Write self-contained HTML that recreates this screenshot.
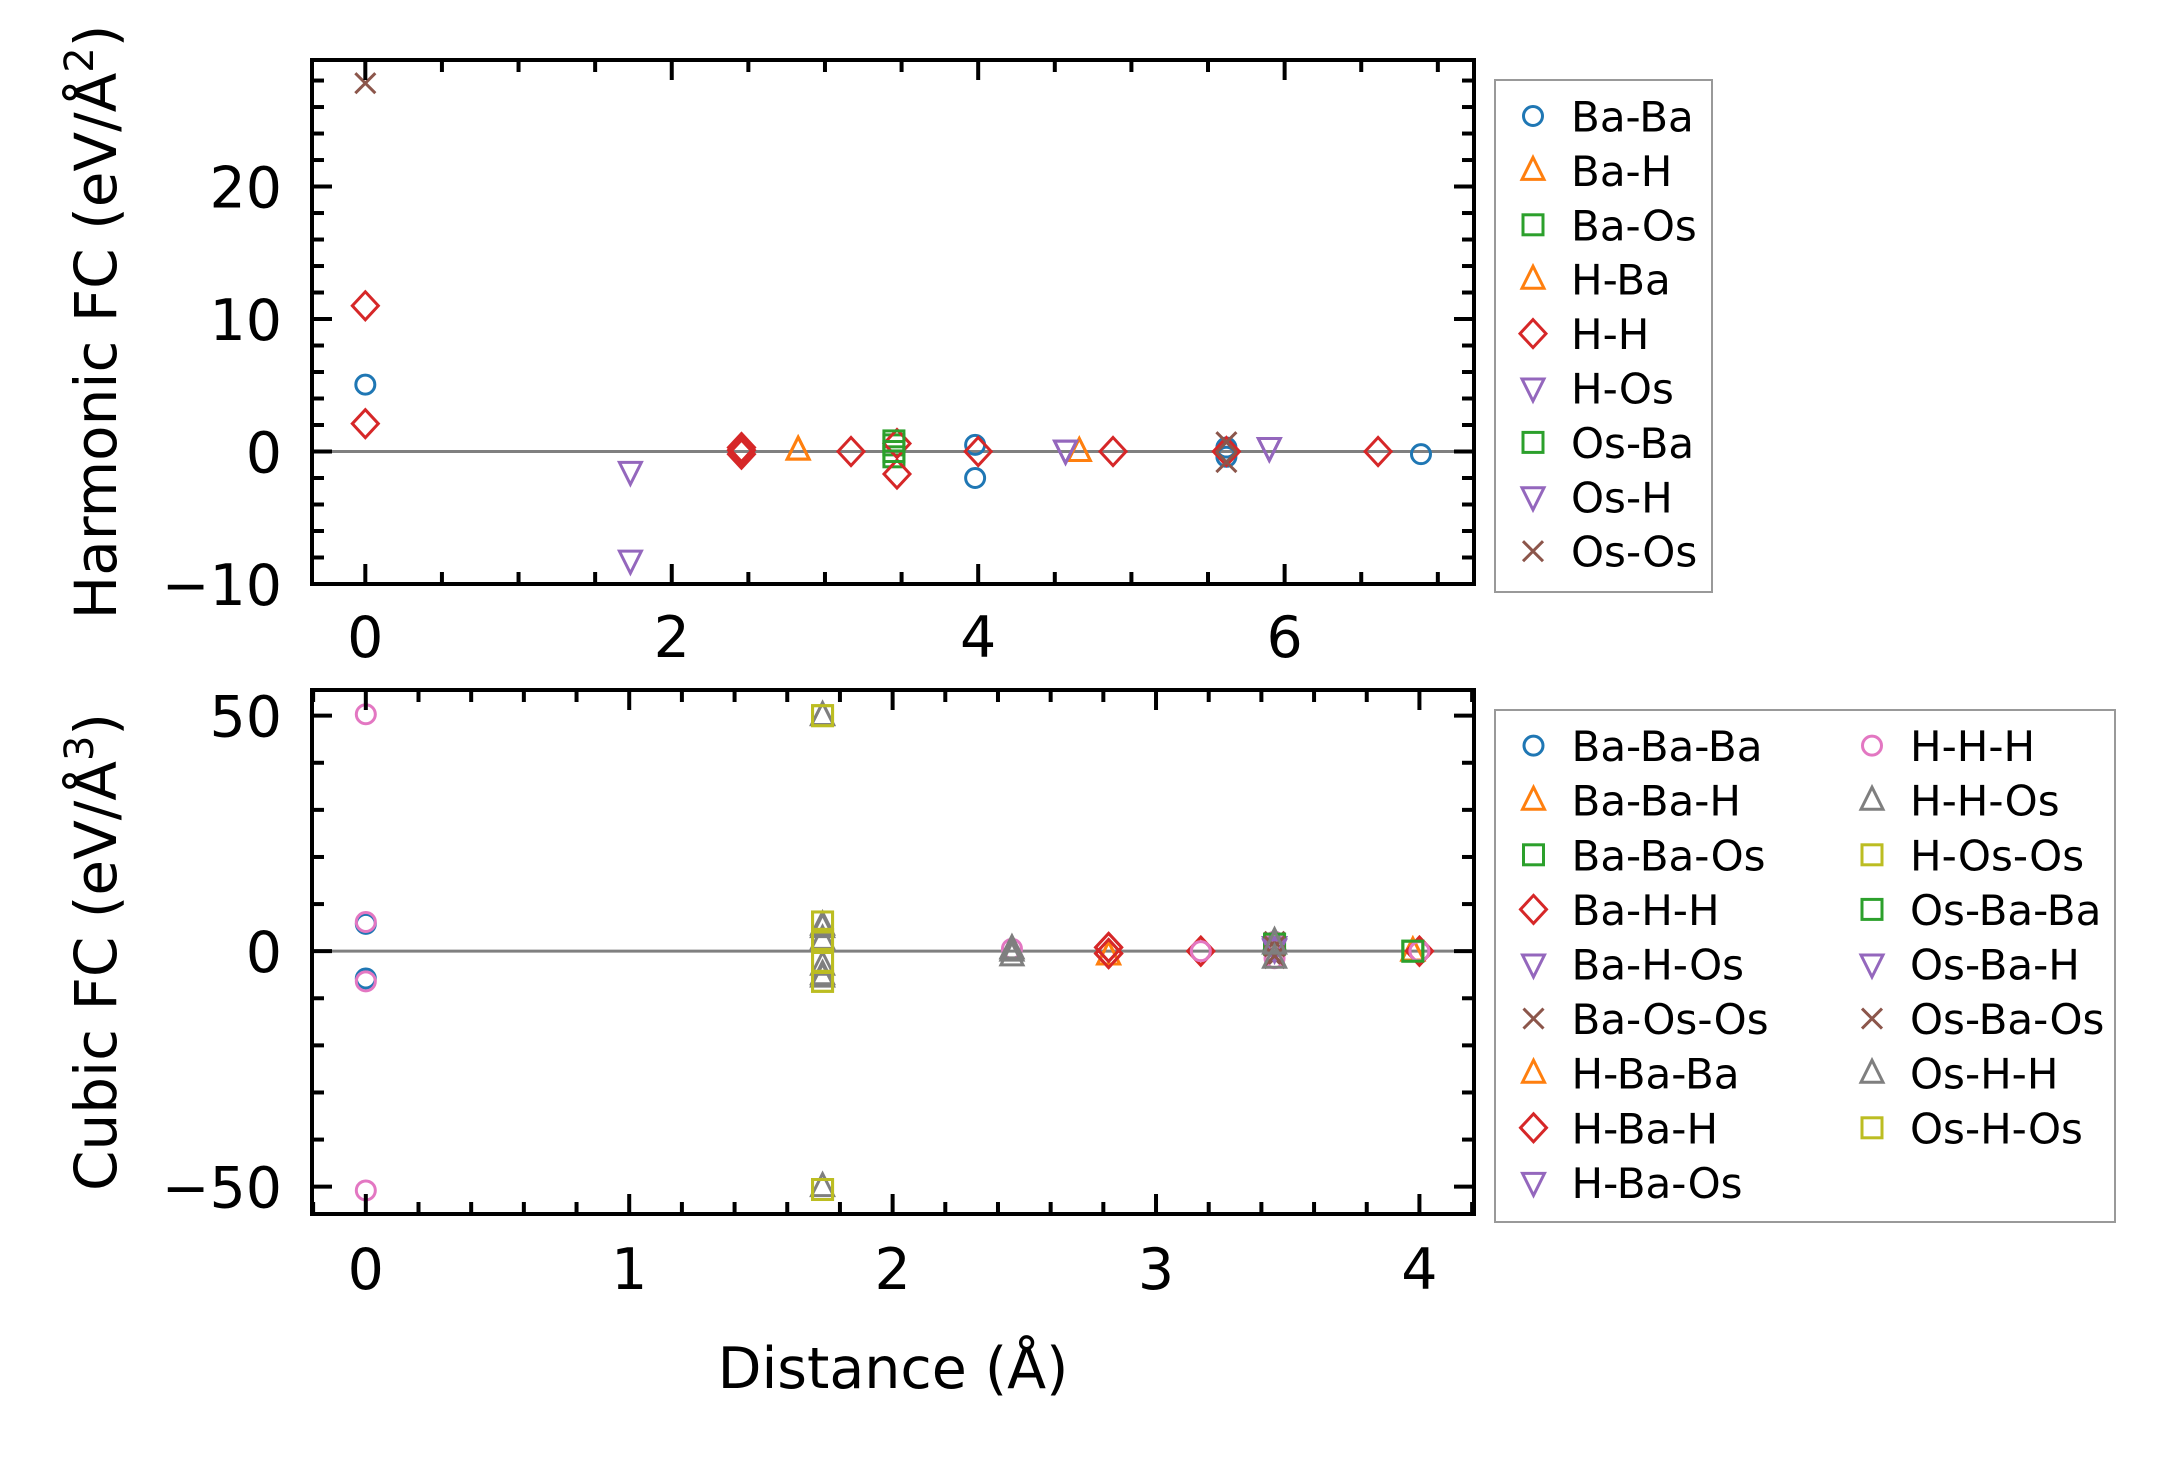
<!DOCTYPE html>
<html><head><meta charset="utf-8"><style>
html,body{margin:0;padding:0;background:#fff}
svg{display:block}
text{font-family:"DejaVu Sans","Liberation Sans",sans-serif;fill:#000}
</style></head><body>
<svg id="chart" width="2177" height="1460" viewBox="0 0 2177 1460" xmlns="http://www.w3.org/2000/svg"></svg>
<script>
// ---- Harmonic (top) data ----
const harmNames = ["Ba-Ba","Ba-H","Ba-Os","H-Ba","H-H","H-Os","Os-Ba","Os-H","Os-Os"];
const harmMarkers = ["o","^","s","^","D","v","s","v","x"];
const harmColors = ["#1f77b4","#ff7f0e","#2ca02c","#ff7f0e","#d62728","#9467bd","#2ca02c","#9467bd","#8c564b"];
const harmDist = [
  [0, 3.98, 3.98, 5.62, 5.62, 5.62, 6.89],
  [2.825, 4.66],
  [3.45, 3.45],
  [2.825, 4.66],
  [0, 0, 2.455, 2.455, 2.455, 3.17, 3.47, 3.47, 4.0, 4.88, 5.62, 6.61],
  [1.73, 1.73, 4.57, 5.9],
  [3.45, 3.45],
  [4.57, 5.9],
  [0, 5.62, 5.62]
];
const harmVals = [
  [5.05, 0.5, -2.0, 0.0, 0.3, -0.4, -0.2],
  [0.1, 0.0],
  [0.5, -0.4],
  [0.1, 0.0],
  [11.0, 2.1, 0.3, -0.2, 0.1, 0.0, 0.6, -1.7, 0.0, 0.0, 0.0, 0.0],
  [-1.5, -8.2, 0.1, 0.3],
  [0.8, 0.0],
  [0.1, 0.3],
  [27.8, 0.7, -0.8]
];
const harmXTicks = [0, 2, 4, 6];
const harmYTicks = [-10, 0, 10, 20];
const harmYTickLabels = ["\u221210", "0", "10", "20"];

// ---- Cubic (bottom) data ----
const cubNames = ["Ba-Ba-Ba","Ba-Ba-H","Ba-Ba-Os","Ba-H-H","Ba-H-Os","Ba-Os-Os","H-Ba-Ba","H-Ba-H","H-Ba-Os","H-H-H","H-H-Os","H-Os-Os","Os-Ba-Ba","Os-Ba-H","Os-Ba-Os","Os-H-H","Os-H-Os"];
const cubMarkers = ["o","^","s","D","v","x","^","D","v","o","^","s","s","v","x","^","s"];
const cubColors = ["#1f77b4","#ff7f0e","#2ca02c","#d62728","#9467bd","#8c564b","#ff7f0e","#d62728","#9467bd","#e377c2","#7f7f7f","#bcbd22","#2ca02c","#9467bd","#8c564b","#7f7f7f","#bcbd22"];
const cubDist = [
  [0, 0],
  [2.82, 3.975],
  [3.45, 3.975],
  [2.82, 2.82, 3.17, 4.0],
  [3.45],
  [3.45, 3.45],
  [2.82, 3.975],
  [2.82, 2.82, 3.17, 4.0],
  [3.45],
  [0, 0, 0, 0, 2.453, 3.17, 3.45, 3.45, 4.0],
  [1.734, 1.734, 1.734, 1.734, 1.734, 1.734, 2.453, 2.453, 3.45],
  [1.734, 1.734, 1.734, 1.734, 1.734, 1.734],
  [3.45, 3.975],
  [3.45],
  [3.45, 3.45],
  [1.734, 1.734, 1.734, 2.453, 3.45, 3.45],
  [1.734, 1.734, 1.734, 1.734, 1.734, 1.734]
];
const cubVals = [
  [5.8, -5.8],
  [-0.8, 0.0],
  [1.5, 0.0],
  [0.8, -0.5, 0.0, 0.0],
  [1.0],
  [2.0, -1.5],
  [-0.8, 0.0],
  [0.8, -0.5, 0.0, 0.0],
  [1.0],
  [50.3, 6.2, -6.4, -50.8, 0.5, 0.0, 2.0, -1.5, 0.0],
  [50.0, 5.5, 2.5, -3.0, -5.5, -50.0, 0.5, -1.0, 2.0],
  [50.0, 6.2, 2.5, -2.4, -6.4, -50.6],
  [1.5, 0.0],
  [0.5],
  [1.0, -1.0],
  [50.0, 5.0, -5.0, 0.0, 1.5, -1.5],
  [50.0, 6.2, 2.5, -2.4, -6.4, -50.6]
];
const cubXTicks = [0, 1, 2, 3, 4];
const cubYTicks = [-50, 0, 50];
const cubYTickLabels = ["\u221250", "0", "50"];

const NS = "http://www.w3.org/2000/svg";
const svg = document.getElementById("chart");
function mk(tag, attrs, parent) {
  const e = document.createElementNS(NS, tag);
  for (const k in attrs) e.setAttribute(k, attrs[k]);
  (parent || svg).appendChild(e);
  return e;
}

function drawMarker(g, m, cx, cy, color, s) {
  const sw = 3;
  let e;
  if (m === "o") e = mk("circle", {cx: cx, cy: cy, r: 9.5*s, fill: "none", stroke: color, "stroke-width": sw}, g);
  else if (m === "s") e = mk("rect", {x: cx-10*s, y: cy-10*s, width: 20*s, height: 20*s, fill: "none", stroke: color, "stroke-width": sw}, g);
  else if (m === "D") e = mk("polygon", {points: `${cx},${cy-14*s} ${cx+13*s},${cy} ${cx},${cy+14*s} ${cx-13*s},${cy}`, fill: "none", stroke: color, "stroke-width": sw}, g);
  else if (m === "^") e = mk("polygon", {points: `${cx},${cy-13*s} ${cx+11*s},${cy+9*s} ${cx-11*s},${cy+9*s}`, fill: "none", stroke: color, "stroke-width": sw}, g);
  else if (m === "v") e = mk("polygon", {points: `${cx},${cy+13*s} ${cx+11*s},${cy-9*s} ${cx-11*s},${cy-9*s}`, fill: "none", stroke: color, "stroke-width": sw}, g);
  else if (m === "x") e = mk("path", {d: `M${cx-10*s},${cy-10*s}L${cx+10*s},${cy+10*s}M${cx+10*s},${cy-10*s}L${cx-10*s},${cy+10*s}`, fill: "none", stroke: color, "stroke-width": sw}, g);
  return e;
}

function drawPanel(cfg) {
  const {L, R, T, B, xmin, xmax, ymin, ymax, xTicks, xMinorStep, yTicks, yTickLabels, yMinorStep, xLabelBase, name} = cfg;
  const xs = d => L + (d - xmin) / (xmax - xmin) * (R - L);
  const ys = v => B - (v - ymin) / (ymax - ymin) * (B - T);
  const g = mk("g", {});
  
  
  const zl = mk("line", {x1: L, x2: R, y1: ys(0), y2: ys(0), stroke: "#808080", "stroke-width": 3}, g);
  
  
  cfg.names.forEach((nm, i) => {
    const sg = mk("g", {}, g);
    
    
    cfg.dist[i].forEach((d, j) => {
      const p = drawMarker(sg, cfg.markers[i], xs(d), ys(cfg.vals[i][j]), cfg.colors[i], 1);
      
      
    });
  });
  const tg = mk("g", {stroke: "#000", "stroke-width": 4}, g);
  
  
  const eps = 1e-6;
  for (let v = Math.ceil(xmin / xMinorStep) * xMinorStep; v <= xmax + eps; v += xMinorStep) {
    const major = xTicks.some(t => Math.abs(t - v) < eps);
    const len = major ? 20 : 12;
    const x = xs(v);
    mk("line", {x1: x, x2: x, y1: B, y2: B - len}, tg);
    mk("line", {x1: x, x2: x, y1: T, y2: T + len}, tg);
  }
  for (let v = Math.ceil(ymin / yMinorStep) * yMinorStep; v <= ymax + eps; v += yMinorStep) {
    const major = yTicks.some(t => Math.abs(t - v) < eps);
    const len = major ? 20 : 12;
    const y = ys(v);
    mk("line", {x1: L, x2: L + len, y1: y, y2: y}, tg);
    mk("line", {x1: R, x2: R - len, y1: y, y2: y}, tg);
  }
  const fr = mk("rect", {x: L, y: T, width: R - L, height: B - T, fill: "none", stroke: "#000", "stroke-width": 4}, g);
  
  
  xTicks.forEach(t => {
    const tx = mk("text", {x: xs(t), y: xLabelBase, "text-anchor": "middle", "font-size": 57}, g);
    tx.textContent = String(t);
    
    
  });
  yTicks.forEach((t, i) => {
    const tx = mk("text", {x: 282, y: ys(t) + 21, "text-anchor": "end", "font-size": 57}, g);
    tx.textContent = yTickLabels[i];
    
    
  });
  const cy = (T + B) / 2;
  const yl = mk("text", {transform: `translate(116,${cy}) rotate(-90)`, "text-anchor": "middle", "font-size": 58}, g);
  
  
  const t1 = mk("tspan", {}, yl); t1.textContent = cfg.ylabel;
  const t2 = mk("tspan", {"baseline-shift": "super", "font-size": 40}, yl); t2.textContent = cfg.ysup;
  const t3 = mk("tspan", {}, yl); t3.textContent = ")";
  const lg = mk("g", {}, g);
  
  
  const lb = cfg.legend;
  mk("rect", {x: lb.x, y: lb.y, width: lb.w, height: lb.h, fill: "#fff", stroke: "#999", "stroke-width": 2}, lg);
  cfg.names.forEach((nm, i) => {
    const col = Math.floor(i / lb.rows), row = i % lb.rows;
    const mx = lb.mx + col * lb.colW, ty = lb.y0 + row * lb.dy;
    const eg = mk("g", {}, lg);
    
    
    drawMarker(eg, cfg.markers[i], mx, ty, cfg.colors[i], 1);
    const tx = mk("text", {x: mx + 38, y: ty + 15.5, "font-size": 42}, eg);
    tx.textContent = nm;
  });
}

drawPanel({
  name: "harmonic", L: 312, R: 1474, T: 60, B: 584,
  xmin: -0.348, xmax: 7.236, ymin: -10, ymax: 29.55,
  xTicks: harmXTicks, xMinorStep: 0.5, yTicks: harmYTicks, yTickLabels: harmYTickLabels, yMinorStep: 2,
  xLabelBase: 657, names: harmNames, markers: harmMarkers, colors: harmColors, dist: harmDist, vals: harmVals,
  ylabel: "Harmonic FC (eV/\u00C5", ysup: "2",
  legend: {x: 1495, y: 80, w: 217, h: 512, rows: 9, mx: 1533, colW: 0, y0: 116, dy: 54.4}
});
drawPanel({
  name: "cubic", L: 312, R: 1474, T: 690, B: 1214,
  xmin: -0.2043, xmax: 4.2072, ymin: -55.8, ymax: 55.45,
  xTicks: cubXTicks, xMinorStep: 0.2, yTicks: cubYTicks, yTickLabels: cubYTickLabels, yMinorStep: 10,
  xLabelBase: 1289, names: cubNames, markers: cubMarkers, colors: cubColors, dist: cubDist, vals: cubVals,
  ylabel: "Cubic FC (eV/\u00C5", ysup: "3",
  legend: {x: 1495, y: 710, w: 620, h: 512, rows: 9, mx: 1533.5, colW: 338.5, y0: 745.6, dy: 54.6}
});
const xl = mk("text", {x: 893, y: 1388, "text-anchor": "middle", "font-size": 57});
xl.textContent = "Distance (\u00C5)";


</script>
</body></html>
